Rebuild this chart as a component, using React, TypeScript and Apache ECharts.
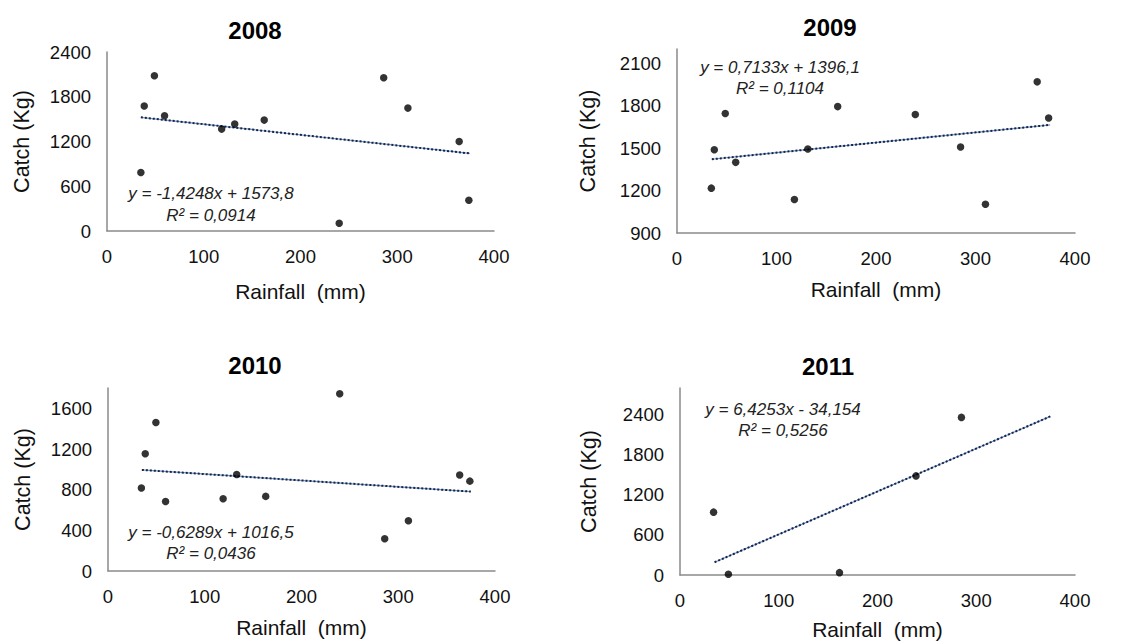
import React, { useEffect, useRef } from "react";
import * as echarts from "echarts";

// Rainfall (mm) per sampling point, shared by panels
const rain2008 = [35, 38.5, 49, 59.5, 118.5, 132, 162.5, 240, 286, 311, 364, 374];
const catch2008 = [784, 1675, 2082, 1545, 1366, 1433, 1487, 103, 2055, 1648, 1200, 412];

const rain2009 = [34.5, 37.5, 48.5, 59, 118, 131.5, 161.5, 239.5, 285, 310, 362, 373.5];
const catch2009 = [1217, 1488, 1744, 1399, 1137, 1493, 1793, 1737, 1508, 1103, 1968, 1713];

const rain2010 = [34.5, 38.5, 49.5, 59.5, 119, 133, 163, 239.5, 286, 310.5, 363.5, 374];
const catch2010 = [817, 1154, 1460, 684, 710, 950, 734, 1744, 317, 494, 944, 884];

const rain2011 = [34, 49, 161.5, 239, 285];
const catch2011 = [941, 10, 35, 1484, 2360];

// Trendline end points (x, y)
const trend2008 = [[35, 1524], [375, 1040]];
const trend2009 = [[35, 1421], [375, 1664]];
const trend2010 = [[35, 994], [375, 781]];
const trend2011 = [[35, 191], [375, 2375]];

const titles = ["2008", "2009", "2010", "2011"];
const equations = [
  ["y = -1,4248x + 1573,8", "R² = 0,0914"],
  ["y = 0,7133x + 1396,1", "R² = 0,1104"],
  ["y = -0,6289x + 1016,5", "R² = 0,0436"],
  ["y = 6,4253x - 34,154", "R² = 0,5256"],
];

// y axis ranges
const yMin = [0, 900, 0, 0];
const yMax = [2400, 2200, 1800, 2800];
const yInterval = [600, 300, 400, 600];

const FONT = "'Liberation Sans', Arial, sans-serif";

export default function App() {
  const ref = useRef<HTMLDivElement>(null);
  useEffect(() => {
    if (!ref.current) return;
    const chart = echarts.init(ref.current, null, { renderer: "svg" });

    const grids = [
      { left: 107, top: 52, width: 387, height: 179 },
      { left: 677, top: 49, width: 398, height: 184 },
      { left: 108, top: 388, width: 387, height: 183 },
      { left: 680, top: 388, width: 395, height: 187 },
    ];
    const yNameGap = [74, 78, 74, 80];
    const xNameGap = [50, 46, 46, 44];

    const points = [
      rain2008.map((r, i) => [r, catch2008[i]]),
      rain2009.map((r, i) => [r, catch2009[i]]),
      rain2010.map((r, i) => [r, catch2010[i]]),
      rain2011.map((r, i) => [r, catch2011[i]]),
    ];
    const trends = [trend2008, trend2009, trend2010, trend2011];

    const axisLine = { show: true, lineStyle: { color: "#8a8a8a", width: 1.5 } };

    const xAxis = grids.map((_, i) => ({
      type: "value",
      gridIndex: i,
      min: 0,
      max: 400,
      interval: 100,
      axisLine,
      axisTick: { show: false },
      splitLine: { show: false },
      axisLabel: {
        color: "#111",
        fontSize: 18.5,
        fontFamily: FONT,
        margin: 16,
        formatter: (v: number) => String(v),
      },
      name: "Rainfall  (mm)",
      nameLocation: "middle",
      nameGap: xNameGap[i],
      nameTextStyle: { color: "#111", fontSize: 21, fontFamily: FONT },
    }));
    const yAxis = grids.map((_, i) => ({
      type: "value",
      gridIndex: i,
      min: yMin[i],
      max: yMax[i],
      interval: yInterval[i],
      axisLine,
      axisTick: { show: false },
      splitLine: { show: false },
      axisLabel: {
        color: "#111",
        fontSize: 18.5,
        fontFamily: FONT,
        margin: 16,
        showMaxLabel: i === 0,
        formatter: (v: number) => String(v),
      },
      name: "Catch (Kg)",
      nameLocation: "middle",
      nameGap: yNameGap[i],
      nameTextStyle: { color: "#111", fontSize: 21.5, fontFamily: FONT },
    }));

    const series: any[] = [];
    grids.forEach((_, i) => {
      series.push({
        type: "line",
        xAxisIndex: i,
        yAxisIndex: i,
        data: trends[i],
        symbol: "none",
        lineStyle: { color: "#6f9bd6", width: 1.2, type: "solid" },
        z: 2,
      });
      series.push({
        type: "line",
        xAxisIndex: i,
        yAxisIndex: i,
        data: trends[i],
        symbol: "none",
        lineStyle: { color: "#1c2440", width: 2, type: [2, 2] },
        z: 3,
      });
      series.push({
        type: "scatter",
        xAxisIndex: i,
        yAxisIndex: i,
        data: points[i],
        symbol: "circle",
        symbolSize: 7.5,
        itemStyle: { color: "#000" },
        z: 4,
      });
    });

    const titleCenters = [
      [255, 30],
      [830, 27],
      [255, 365],
      [828, 366],
    ];
    const eqPos = [
      [211, 193, 215],
      [780, 67, 88],
      [211, 532, 553],
      [783, 409, 430],
    ];

    const graphic: any[] = [];
    titles.forEach((t, i) => {
      graphic.push({
        type: "text",
        x: titleCenters[i][0],
        y: titleCenters[i][1],
        style: {
          text: t,
          fill: "#000",
          font: `bold 24px ${FONT}`,
          textAlign: "center",
          textVerticalAlign: "middle",
        },
      });
      equations[i].forEach((line, k) => {
        graphic.push({
          type: "text",
          x: eqPos[i][0],
          y: eqPos[i][1 + k],
          style: {
            text: line,
            fill: "#222",
            font: `italic 17px ${FONT}`,
            textAlign: "center",
            textVerticalAlign: "middle",
          },
        });
      });
    });

    chart.setOption({
      animation: false,
      backgroundColor: "#fff",
      grid: grids,
      xAxis,
      yAxis,
      series,
      graphic,
    });
    return () => chart.dispose();
  }, []);
  return (
    <div
      ref={ref}
      style={{ position: "fixed", left: 0, top: 0, width: 1127, height: 642 }}
    />
  );
}
